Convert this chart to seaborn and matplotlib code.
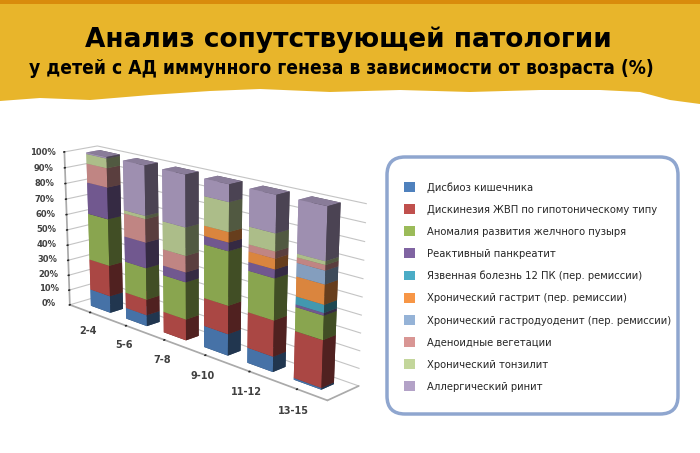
import matplotlib
matplotlib.use("Agg")
import matplotlib.pyplot as plt
import numpy as np
import seaborn as sns
from matplotlib import font_manager as fm
from matplotlib.patches import Patch, FancyBboxPatch, Polygon, Rectangle

sns.set_theme(style="white")
plt.rcParams['font.family'] = ['DejaVu Sans']

# Data (percent of children in each age group)
ages = ['2-4', '5-6', '7-8', '9-10', '11-12', '13-15']
diseases = ['Дисбиоз кишечника',
            'Дискинезия ЖВП по гипотоническому типу',
            'Аномалия развития желчного пузыря',
            'Реактивный панкреатит',
            'Язвенная болезнь 12 ПК (пер. ремиссии)',
            'Хронический гастрит (пер. ремиссии)',
            'Хронический гастродуоденит (пер. ремиссии)',
            'Аденоидные вегетации',
            'Хронический тонзилит',
            'Аллергический ринит']
disbioz = [11, 7, 0, 13, 9, 1]
diskinezia = [20, 10, 13, 17, 21, 27]
anomalia = [30, 20, 23, 32, 24, 13.5]
pankreatit = [20, 16, 6, 5, 5, 1.5]
yazva = [0, 0, 0, 0, 0, 4.5]
gastrit = [0, 0, 0, 6, 6, 11]
gastroduodenit = [0, 0, 0, 0, 0, 7.5]
adenoidy = [12, 14.5, 10, 0, 4, 3]
tonzilit = [6, 2, 17, 17, 10, 2]
rinit = [1, 30.5, 31, 10, 21, 29]

values = [disbioz, diskinezia, anomalia, pankreatit, yazva,
          gastrit, gastroduodenit, adenoidy, tonzilit, rinit]
colors = ['#4F81BD', '#C0504D', '#9BBB59', '#8064A2', '#4BACC6',
          '#F79646', '#95B3D7', '#D99694', '#C3D69B', '#B3A2C7']

# narrow font if the condensed DejaVu is installed, otherwise shrink a bit
cond_path = fm.findfont(fm.FontProperties(family='DejaVu Sans',
                                          stretch='condensed'))
has_cond = 'Condensed' in cond_path
stretch = 'condensed' if has_cond else 'normal'
sub_size = 13.8 if has_cond else 12.4
leg_size = 8.0 if has_cond else 7.3

W, H = 700, 453
fig = plt.figure(figsize=(7, 4.53), dpi=100)
fig.patch.set_facecolor('white')


def px(x, y):
    return (x / W, 1 - y / H)


# Header band with ragged bottom edge
edge = [(0, 101), (40, 98), (90, 100), (150, 95), (210, 91), (260, 89),
        (330, 92), (400, 90), (470, 92), (540, 90), (600, 90), (640, 92),
        (670, 100), (700, 104)]
poly = [(0, 0)] + edge + [(700, 0)]
fig.patches.append(Polygon([px(x, y) for x, y in poly], closed=True,
                           transform=fig.transFigure, facecolor='#E8B52B',
                           edgecolor='none', zorder=0))
fig.patches.append(Rectangle(px(0, 4), 1, 4 / H, transform=fig.transFigure,
                             facecolor='#D98B0C', edgecolor='none', zorder=0))

fig.text(0.497, 1 - 40 / H, 'Анализ сопутствующей патологии', ha='center',
         va='center', fontsize=19, fontweight='heavy', color='black')
fig.text(0.487, 1 - 68 / H,
         'у детей с АД иммунного генеза в зависимости от возраста (%)',
         ha='center', va='center', fontsize=sub_size, fontweight='bold',
         fontstretch=stretch, color='black')

# 3D stacked bars
ax = fig.add_axes([-0.03, 0.03, 0.62, 0.77], projection='3d')
ax.set_proj_type('persp', focal_length=0.6)
ax.view_init(elev=17, azim=-45)
ax.set_box_aspect((3.6, 0.45, 1.7), zoom=1.14)

xs, zs, dzs, cs = [], [], [], []
bottom = np.zeros(len(ages))
for vals, col in zip(values, colors):
    for j, v in enumerate(vals):
        if v > 0:
            xs.append(j - 0.28)
            zs.append(bottom[j])
            dzs.append(v)
            cs.append(col)
    bottom += np.array(vals)

ax.bar3d(xs, [0.32] * len(xs), zs, 0.56, 0.4, dzs, color=cs, shade=True,
         edgecolor='none')

ax.set_xlim(-0.6, len(ages) - 0.4)
ax.set_ylim(0, 1)
ax.set_zlim(0, 100)
ax.set_xticks(range(len(ages)))
ax.set_xticklabels(ages, fontsize=7, fontweight='bold', color='#404040')
ax.set_yticks([])
ax.set_zticks(range(0, 101, 10))
ax.set_zticklabels([f'{t}%' for t in range(0, 101, 10)], fontsize=6,
                   fontweight='bold', color='#404040')
ax.zaxis.set_ticks_position('lower')

for axis in (ax.xaxis, ax.yaxis, ax.zaxis):
    axis.set_pane_color((1, 1, 1, 0))
    axis.line.set_color('#AAAAAA')
ax.grid(True)
ax.xaxis._axinfo['grid'].update(color=(1, 1, 1, 0), linewidth=0)
ax.yaxis._axinfo['grid'].update(color=(1, 1, 1, 0), linewidth=0)
ax.zaxis._axinfo['grid'].update(color='#C4C4C4', linewidth=0.8)

# Legend with rounded frame
frame = FancyBboxPatch((3.87, 0.39), 2.91, 2.57,
                       boxstyle='round,pad=0,rounding_size=0.18',
                       transform=fig.dpi_scale_trans, facecolor='white',
                       edgecolor='#8FA6CF', linewidth=2.5, zorder=1)
fig.patches.append(frame)
handles = [Patch(facecolor=c, edgecolor='none') for c in colors]
fig.legend(handles, diseases, loc='upper left', bbox_to_anchor=px(404, 182),
           frameon=False, handlelength=1.0, handleheight=1.0,
           handletextpad=1.1, labelspacing=1.02, borderaxespad=0, borderpad=0,
           prop={'family': 'DejaVu Sans', 'stretch': stretch,
                 'size': leg_size})

fig.savefig('out.png', dpi=100)
